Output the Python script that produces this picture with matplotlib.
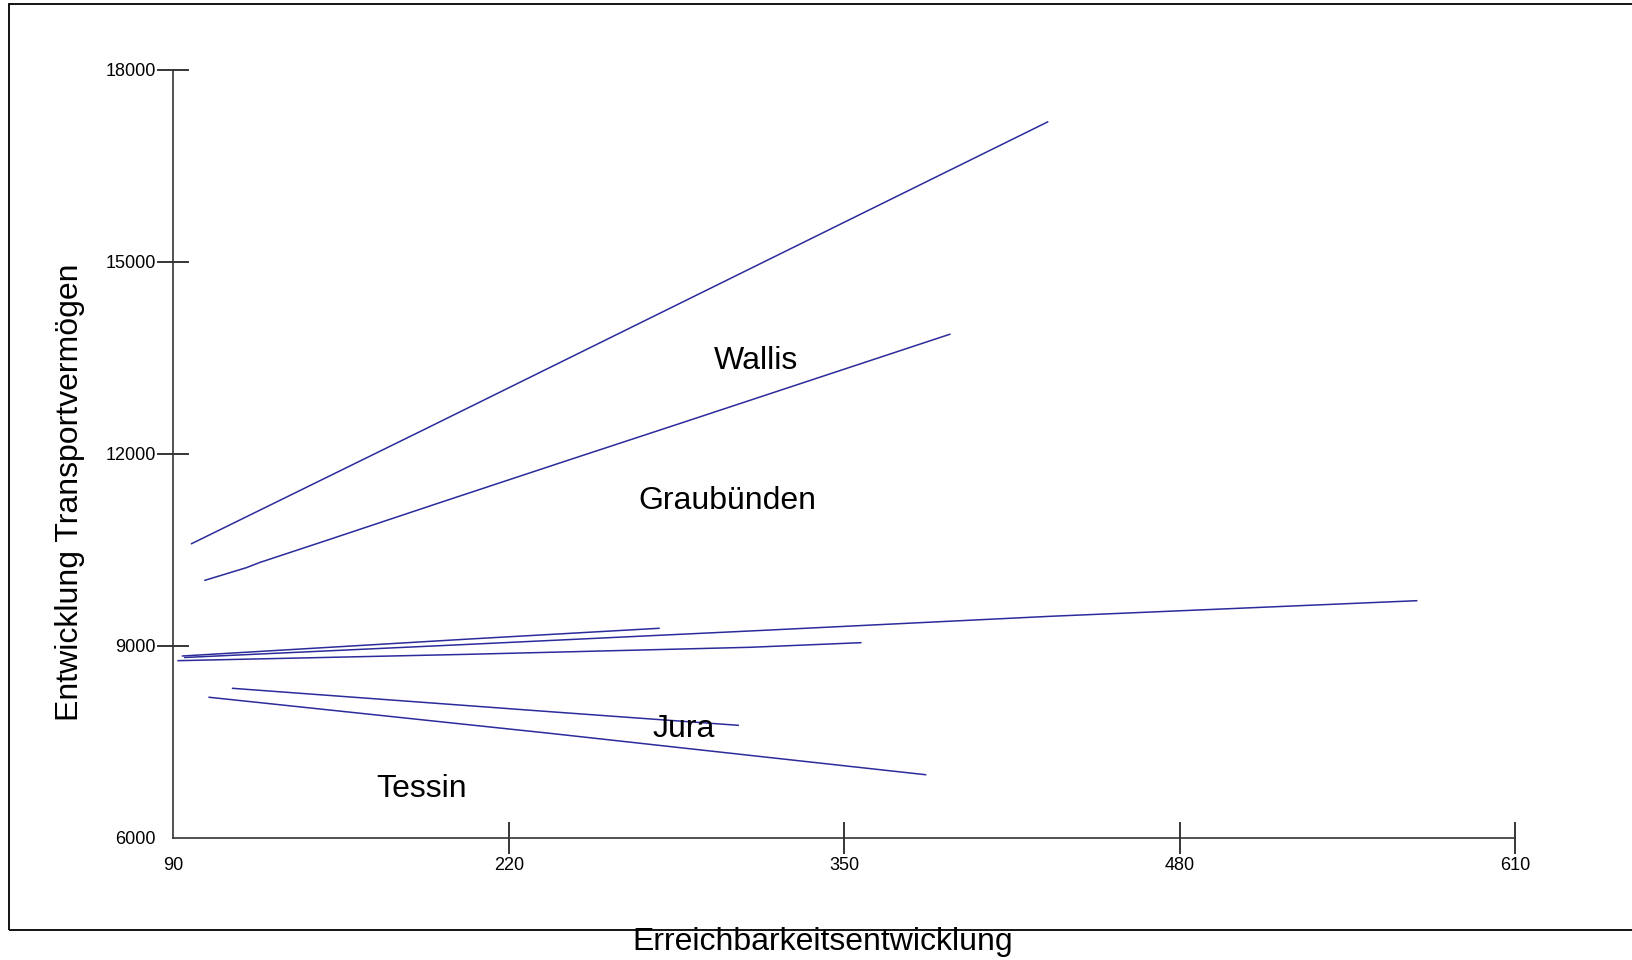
import matplotlib.pyplot as plt
from matplotlib.patches import Rectangle

plt.rcParams['font.family'] = ['Liberation Sans', 'DejaVu Sans']

# Regressionslinien je Region (Erreichbarkeit vs. Transportvermoegen)
wallis_x = [97.1, 188.2, 428.8]
wallis_y = [10594, 12397, 17184]

graub_x = [102.3, 118.4, 123.5, 149.4, 193.3, 242.4, 286.3, 390.9]
graub_y = [10022, 10220, 10300, 10645, 11235, 11890, 12472, 13866]

mitte1_x = [93.6, 205.0, 278.2]
mitte1_y = [8839, 9105, 9272]

mitte2_x = [94.5, 205.0, 313.5, 429.7, 571.8]
mitte2_y = [8816, 9022, 9230, 9459, 9703]

mitte3_x = [91.9, 205.0, 313.5, 356.4]
mitte3_y = [8766, 8866, 8975, 9047]

jura_x = [113.0, 235.9, 308.9]
jura_y = [8334, 7969, 7756]

tessin_x = [103.9, 235.9, 381.5]
tessin_y = [8194, 7631, 6984]

x_ticks = [90, 220, 350, 480, 610]
y_ticks = [6000, 9000, 12000, 15000, 18000]

farbe = '#2b2b9b'

fig = plt.figure(figsize=(16.33, 9.6), dpi=100)
ax = fig.add_axes([0.1061, 0.1274, 0.8218, 0.8])

for xs, ys in [(wallis_x, wallis_y), (graub_x, graub_y), (mitte1_x, mitte1_y),
               (mitte2_x, mitte2_y), (mitte3_x, mitte3_y), (jura_x, jura_y),
               (tessin_x, tessin_y)]:
    ax.plot(xs, ys, color=farbe, lw=1.1)

ax.set_xlim(90, 610)
ax.set_ylim(6000, 18000)
ax.set_xticks(x_ticks)
ax.set_yticks(y_ticks)
ax.set_xticklabels([str(t) for t in x_ticks])
ax.set_yticklabels([str(t) for t in y_ticks])
ax.tick_params(direction='inout', length=23, width=1.1, labelsize=13, colors='black')
ax.tick_params(axis='y', pad=1)
ax.tick_params(axis='x', pad=2.5)
ax.xaxis.get_major_ticks()[0].tick1line.set_visible(False)
ax.yaxis.get_major_ticks()[0].tick1line.set_visible(False)

for s in ['top', 'right']:
    ax.spines[s].set_visible(False)
for s in ['left', 'bottom']:
    ax.spines[s].set_color('#333333')
    ax.spines[s].set_linewidth(1.2)

ax.text(315.8, 13323, 'Wallis', fontsize=23, ha='center', va='baseline')
ax.text(304.9, 11136, 'Graubünden', fontsize=23, ha='center', va='baseline')
ax.text(287.8, 7581, 'Jura', fontsize=23, ha='center', va='baseline')
ax.text(186.4, 6636, 'Tessin', fontsize=23, ha='center', va='baseline')

fig.text(69.8 / 1633, 1 - 492 / 960, 'Entwicklung Transportvermögen', fontsize=23,
         rotation=90, ha='center', va='center')
fig.text(823 / 1633, 1 - 942 / 960, 'Erreichbarkeitsentwicklung', fontsize=23,
         ha='center', va='center')

# Rahmen um die Grafik
fig.patches.append(Rectangle((9.5 / 1633, 1 - 930 / 960), 1.0, (930 - 4) / 960,
                             transform=fig.transFigure, fill=False,
                             edgecolor='black', lw=1.3, clip_on=False))

fig.savefig('out.png', dpi=100)
